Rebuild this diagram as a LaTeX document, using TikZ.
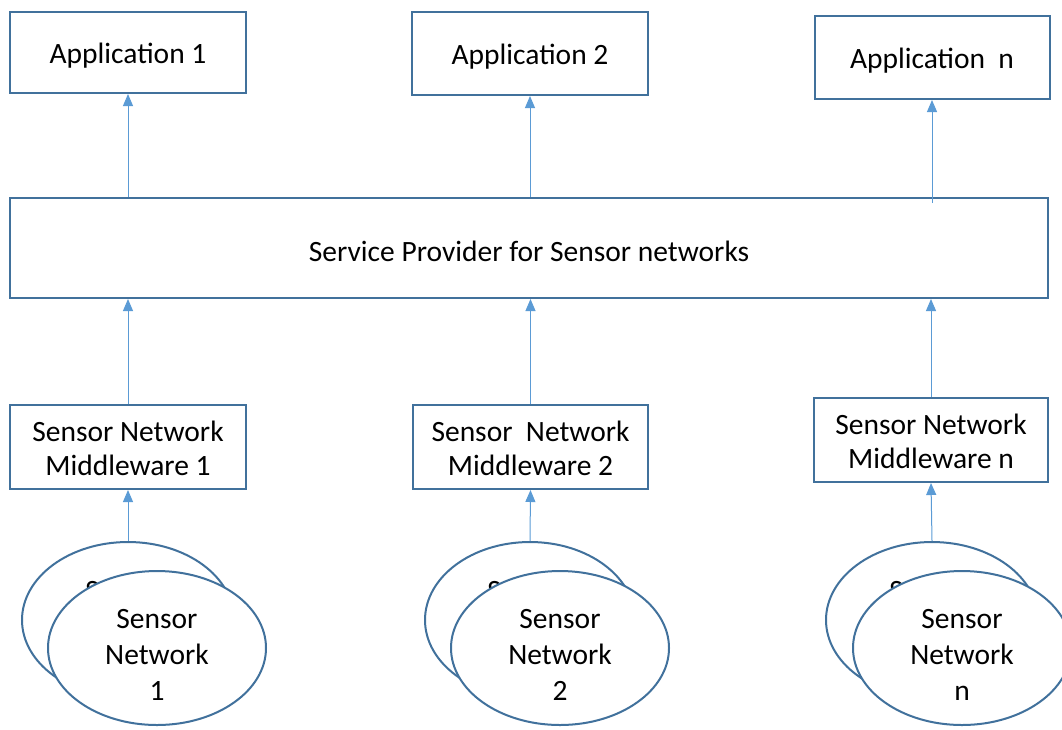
\documentclass[tikz,border=0pt]{standalone}
\usepackage{fontspec}
\setmainfont{Carlito}
\usetikzlibrary{arrows.meta,shapes.geometric}
\definecolor{bd}{HTML}{41719C}
\definecolor{ar}{HTML}{5B9BD5}
\begin{document}
\begin{tikzpicture}[x=1pt,y=-1pt,
  box/.style={draw=bd, line width=2pt, fill=white, inner sep=0pt},
  ell/.style={ellipse, draw=bd, line width=2pt, fill=white, inner sep=0pt},
  txt/.style={inner sep=0pt, align=center, font=\fontsize{29.5}{34}\selectfont},
  etxt/.style={inner sep=0pt, align=center, font=\fontsize{29.5}{36}\selectfont},
  conn/.style={draw=ar, line width=1pt, -{Triangle[width=10pt,length=12pt]}}]
\useasboundingbox (0,0) rectangle (1062,729);
% applications
\node[box, minimum width=236pt, minimum height=81pt] (app1) at (128,52.5) {};
\node[txt] (app1t) at ([yshift=-3.5pt]app1.center) {Application 1};
\node[box, minimum width=236pt, minimum height=83pt] (app2) at (530,53.5) {};
\node[txt] (app2t) at ([yshift=-3.5pt]app2.center) {Application 2};
\node[box, minimum width=235pt, minimum height=83pt] (appn) at (932,57.5) {};
\node[txt] (appnt) at ([yshift=-3.5pt]appn.center) {Application\ \ n};
% service provider
\node[box, minimum width=1038pt, minimum height=100pt] (sp) at (529,248) {};
\node[txt] (spt) at ([yshift=-3.5pt]sp.center) {Service Provider for Sensor networks};
% middleware
\node[box, minimum width=236pt, minimum height=84pt] (mw1) at (128,447) {};
\node[txt] (mw1t) at ([yshift=-1.5pt]mw1.center) {Sensor Network\\Middleware 1};
\node[box, minimum width=235pt, minimum height=84pt] (mw2) at (530.5,447) {};
\node[txt] (mw2t) at ([yshift=-1.5pt]mw2.center) {Sensor\ \ Network\\Middleware 2};
\node[box, minimum width=234pt, minimum height=84pt] (mwn) at (931,440) {};
\node[txt] (mwnt) at ([yshift=-1.5pt]mwn.center) {Sensor Network\\Middleware n};
% sensor networks (back)
\node[ell, minimum width=212pt, minimum height=156pt] (e1b) at (128,620) {};
\node[etxt] (e1bt) at ([xshift=-2pt,yshift=-7pt]e1b.center) {Sensor\\Network\\1};
\node[ell, minimum width=210pt, minimum height=156pt] (e2b) at (530,620) {};
\node[etxt] (e2bt) at ([xshift=-2pt,yshift=-7pt]e2b.center) {Sensor\\Network\\2};
\node[ell, minimum width=212pt, minimum height=156pt] (enb) at (932,620) {};
\node[etxt] (enbt) at ([xshift=-2pt,yshift=-7pt]enb.center) {Sensor\\Network\\n};
% sensor networks (front)
\node[ell, minimum width=218pt, minimum height=154pt] (e1f) at (157,648) {};
\node[etxt] (e1ft) at ([yshift=-7pt]e1f.center) {Sensor\\Network\\1};
\node[ell, minimum width=218pt, minimum height=154pt] (e2f) at (560,648) {};
\node[etxt] (e2ft) at ([yshift=-7pt]e2f.center) {Sensor\\Network\\2};
\node[ell, minimum width=218pt, minimum height=154pt] (enf) at (962,648) {};
\node[etxt] (enft) at ([yshift=-7pt]enf.center) {Sensor\\Network\\n};
% connectors
\draw[conn] (sp.north -| app1.south) -- (app1.south);
\draw[conn] (sp.north -| app2.south) -- (app2.south);
\draw[conn] ([yshift=-6pt]sp.north -| appn.south) -- (appn.south);
\draw[conn] (mw1.north) -- (mw1.north |- sp.south);
\draw[conn] (mw2.north) -- (mw2.north |- sp.south);
\draw[conn] (mwn.north) -- (mwn.north |- sp.south);
\draw[conn] (e1b.north) -- (mw1.south);
\draw[conn] (e2b.north) -- (mw2.south);
\draw[conn] (enb.north) -- (mwn.south);
\end{tikzpicture}
\end{document}
